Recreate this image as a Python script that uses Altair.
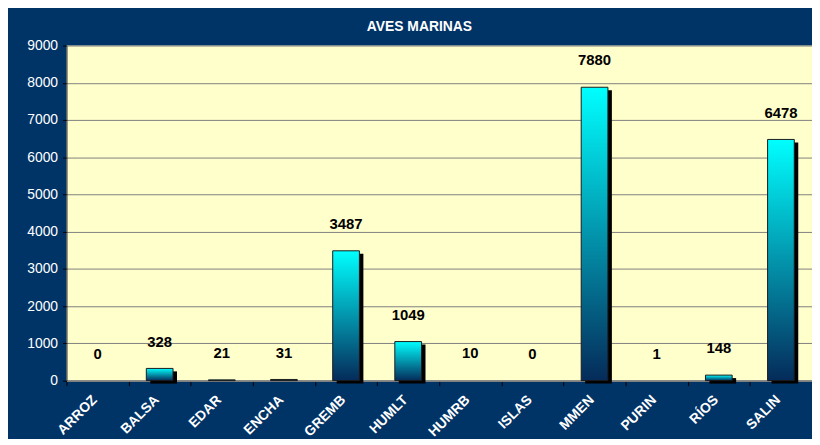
import altair as alt
import pandas as pd

categories = ["ARROZ", "BALSA", "EDAR", "ENCHA", "GREMB", "HUMLT",
              "HUMRB", "ISLAS", "MMEN", "PURIN", "RÍOS", "SALIN"]
values = [0, 328, 21, 31, 3487, 1049, 10, 0, 7880, 1, 148, 6478]
y_ticks = [0, 1000, 2000, 3000, 4000, 5000, 6000, 7000, 8000, 9000]
chart_title = "AVES MARINAS"

df = pd.DataFrame({"cat": categories, "val": values})

FONT = "Liberation Sans"
NAVY = "#003366"

x = alt.X(
    "cat:N", sort=categories,
    scale=alt.Scale(paddingInner=0, paddingOuter=0),
    axis=alt.Axis(title=None, labelAngle=315, labelColor="white", labelFont=FONT,
                  labelFontWeight="bold", labelFontSize=14, tickBand="extent",
                  tickColor="#000000", tickSize=5, domainColor="#808080",
                  domainWidth=2, labelPadding=7, labelOffset=-8, grid=False),
)
y = alt.Y(
    "val:Q",
    scale=alt.Scale(domain=[0, 9000], nice=False),
    axis=alt.Axis(title=None, values=y_ticks, format="d", labelColor="white",
                  labelFontSize=14, labelFont=FONT, tickColor="#000000", tickSize=4,
                  domainColor="#303030", gridColor="#808080", labelPadding=5),
)

gradient = {
    "gradient": "linear", "x1": 0, "y1": 0, "x2": 0, "y2": 1,
    "stops": [{"offset": 0, "color": "#00FFFF"}, {"offset": 1, "color": "#052B5A"}],
}

base = alt.Chart(df)

shadow = base.transform_filter("datum.val >= 50").mark_bar(
    color="#000000", width=alt.RelativeBandSize(0.43), xOffset=4, yOffset=3
).encode(x=x, y=y)

bars = base.transform_filter("datum.val >= 20").mark_bar(
    width=alt.RelativeBandSize(0.43), color=gradient, stroke="#1a1a1a", strokeWidth=1
).encode(x=x, y=y)

labels = base.mark_text(
    dy=-27, fontSize=15, fontWeight="bold", font=FONT, color="#000000", baseline="middle"
).encode(x=x, y=y, text="val:Q")

chart = alt.layer(shadow, bars, labels).properties(
    width=752, height=338,
    title=alt.TitleParams(chart_title, color="white", fontSize=14, font=FONT,
                          fontWeight="bold", anchor="middle", offset=5, dx=-20),
    padding={"left": 59, "top": 36, "right": 0, "bottom": 57},
    autosize=alt.AutoSizeParams(type="none"),
    background=NAVY,
).configure_view(fill="#FFFFCC", strokeWidth=0)

chart.save("out.html", embed_options={"renderer": "svg", "actions": False})
